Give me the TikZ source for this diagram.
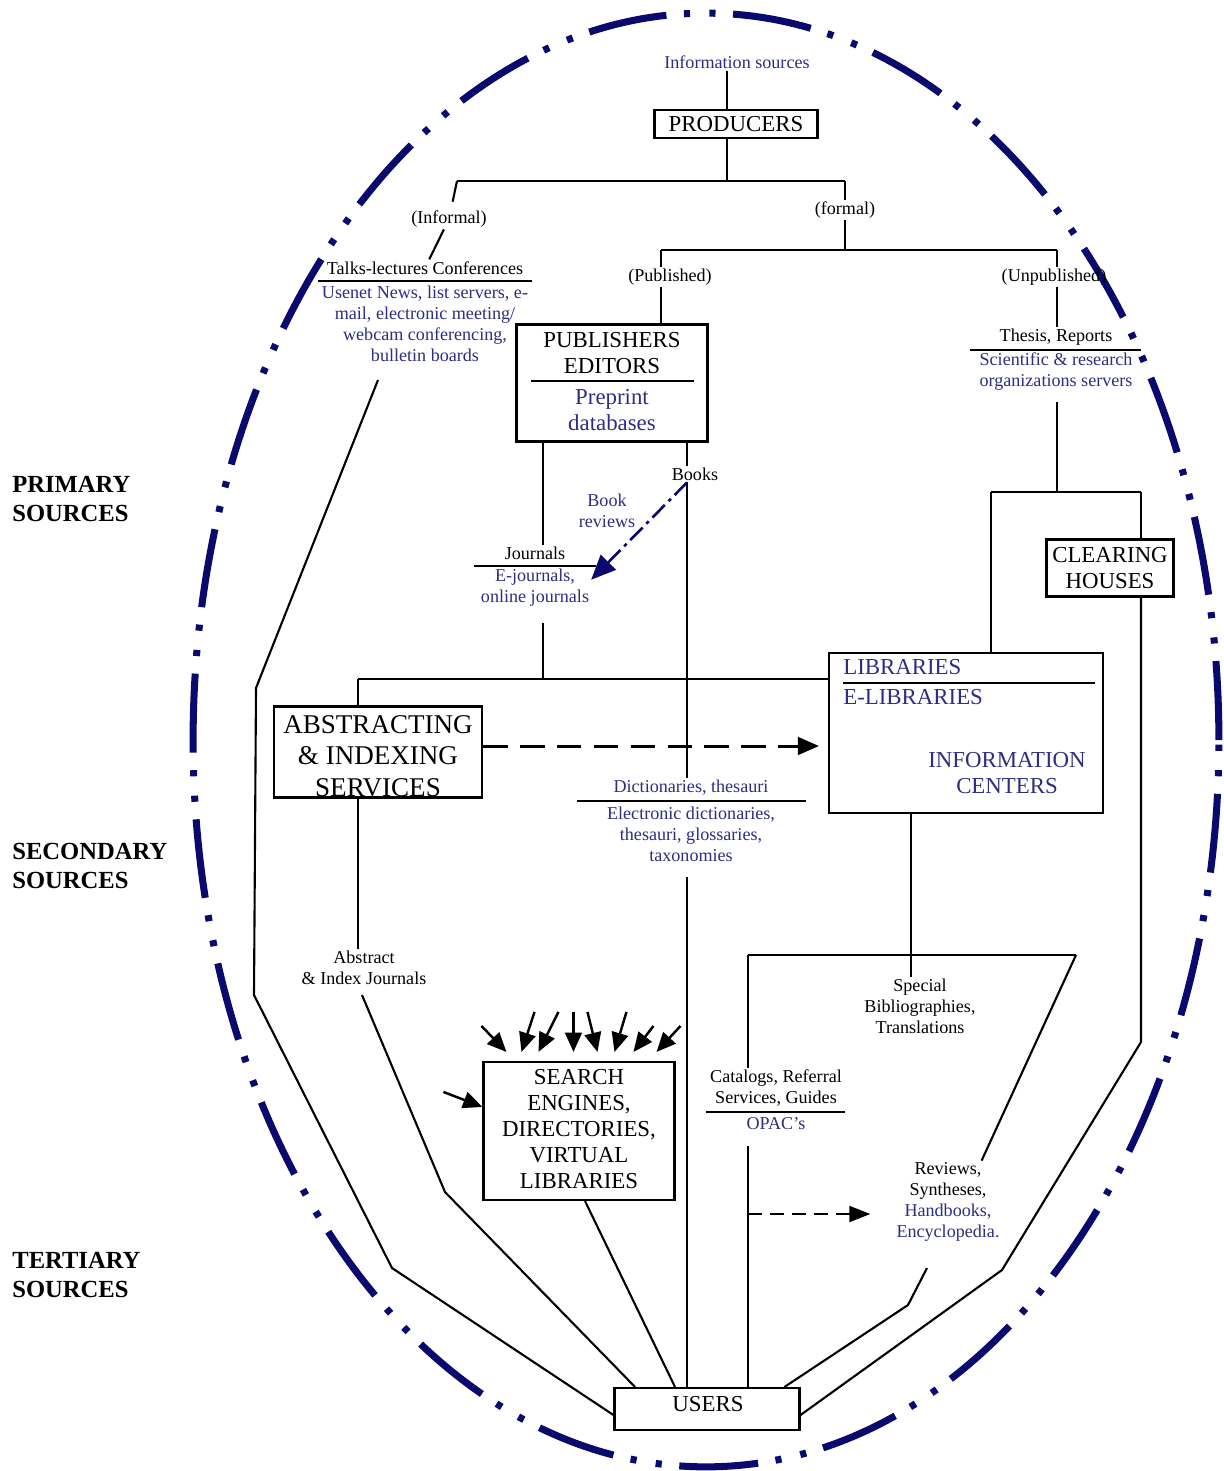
\documentclass[tikz,border=0pt]{standalone}
\usepackage{fontspec}
\setmainfont{Liberation Serif}
\usetikzlibrary{arrows.meta}

\definecolor{ovalblue}{RGB}{10,10,110}
\definecolor{textblue}{RGB}{45,45,130}

\begin{document}
\begin{tikzpicture}[x=0.02cm,y=-0.02cm,
    sm/.style={font=\fontsize{10.3}{11.9}\selectfont,align=center,inner sep=1pt},
    smb/.style={sm,text=textblue},
    big/.style={font=\fontsize{13}{15.2}\selectfont,align=center,inner sep=0pt},
    bigb/.style={big,text=textblue},
    box/.style={draw,very thick,inner sep=0pt,align=center,font=\fontsize{13}{15}\selectfont},
    side/.style={font=\bfseries\fontsize{14}{16.4}\selectfont,align=left,anchor=west,inner sep=0pt},
    fatarrow/.style={line width=1.4pt,-{Triangle[length=11pt,width=9.5pt]}},
]
\useasboundingbox (0,0) rectangle (1224,1471);

% the oval
\draw [ovalblue,line width=4pt,dash pattern=on 45pt off 10pt on 3.5pt off 11pt on 3.5pt off 10pt]
    (706,740) ellipse [x radius=10.26cm,y radius=14.54cm];

% side labels
\node [side] (prim) at (12,499) {PRIMARY\\SOURCES};
\node [side] (secd) at (12,866) {SECONDARY\\SOURCES};
\node [side] (tert) at (12,1275) {TERTIARY\\SOURCES};

% boxes
\node [box,minimum width=3.26cm,minimum height=0.56cm] (prod) at (736,124) {PRODUCERS};
\node [box,minimum width=3.82cm,minimum height=2.34cm] (pub) at (612,383) {};
\node [big] (pubtxt) at (612,353) {PUBLISHERS\\EDITORS};
\node [bigb] (pre) at (612,410) {Preprint\\databases};
\node [box,minimum width=4.16cm,minimum height=1.82cm] (aandi) at (378,752) {};
\node [big,font=\fontsize{15.4}{18}\selectfont] (aanditxt) at (378,756) {ABSTRACTING\\\& INDEXING\\SERVICES};
\node [box,minimum width=5.48cm,minimum height=3.2cm] (lib) at (966,733) {};
\node [bigb,anchor=west] (libtxt) at (843,667) {LIBRARIES};
\node [bigb,anchor=west] (elib) at (843,697) {E-LIBRARIES};
\node [bigb] (infc) at (1007,773) {INFORMATION\\CENTERS};
\node [box,minimum width=2.54cm,minimum height=1.14cm] (clear) at (1110,568) {CLEARING\\HOUSES};
\node [box,minimum width=3.82cm,minimum height=2.76cm] (search) at (579,1131) {};
\node [big,font=\fontsize{13}{14.9}\selectfont] (searchtxt) at (579,1129) {SEARCH\\ENGINES,\\DIRECTORIES,\\VIRTUAL\\LIBRARIES};
\node [box,minimum width=3.7cm,minimum height=0.84cm] (users) at (707,1409) {};
\node [big] (userstxt) at (708,1404) {USERS};

% labels
\node [smb] (info) at (737,62) {Information sources};
\node [sm] (informal) at (449,219) {(Informal)};
\node [sm] (formal) at (845,210) {(formal)};
\node [sm] (published) at (670,277) {(Published)};
\node [sm] (unpub) at (1054,277) {(Unpublished)};
\node [sm] (talks) at (425,268) {Talks-lectures Conferences};
\node [smb] (usenet) at (425,324) {Usenet News, list servers, e-\\mail, electronic meeting/\\webcam conferencing,\\bulletin boards};
\node [sm] (thesis) at (1056,337) {Thesis, Reports};
\node [smb] (sci) at (1056,372) {Scientific \& research\\organizations servers};
\node [sm] (books) at (695,474) {Books};
\node [smb] (bookrev) at (607,511) {Book\\reviews};
\node [sm] (journals) at (535,553) {Journals};
\node [smb] (ejour) at (535,588) {E-journals,\\online journals};
\node [smb] (dict) at (691,788) {Dictionaries, thesauri};
\node [smb] (edict) at (691,834) {Electronic dictionaries,\\thesauri, glossaries,\\taxonomies};
\node [sm] (absj) at (364,968) {Abstract\\\& Index Journals};
\node [sm] (special) at (920,1006) {Special\\Bibliographies,\\Translations};
\node [sm] (catalogs) at (776,1088) {Catalogs, Referral\\Services, Guides};
\node [smb] (opac) at (776,1124) {OPAC’s};
\node [sm] (reviews) at (948,1202) {Reviews,\\Syntheses,\\\textcolor{textblue}{Handbooks,}\\\textcolor{textblue}{Encyclopedia.}};

% rules under the labels
\foreach \xa/\xb/\yy in {318/532/281, 531/694/381, 970/1141/350, 474/596/566, 843/1095/683, 577/806/801, 706/845/1112}
    \draw [very thick] (\xa,\yy) -- (\xb,\yy);

% joints
\coordinate (jtop) at (727,181);
\coordinate (jinf) at (457,181);
\coordinate (jform) at (845,181);
\coordinate (jform2) at (845,250);
\coordinate (jpub) at (661,250);
\coordinate (junp) at (1057,250);
\coordinate (jclr) at (1057,492);
\coordinate (jlib) at (991,492);
\coordinate (jch) at (1141,492);
\coordinate (jjour) at (543,679);
\coordinate (jabs) at (358,679);
\coordinate (jbk) at (687,462);
\coordinate (jsp) at (911,955);
\coordinate (jcat) at (748,955);
\coordinate (jrev) at (1076,955);
\coordinate (l0) at (378,380);
\coordinate (l1) at (256,688);
\coordinate (l2) at (254,995);
\coordinate (l3) at (392,1268);
\coordinate (a0) at (362,995);
\coordinate (a1) at (445,1192);
\coordinate (r1) at (1141,1042);
\coordinate (r2) at (1002,1270);
\coordinate (v0) at (927,1268);
\coordinate (v1) at (908,1305);
\coordinate (dstart) at (748,1214);

% top tree
\draw [very thick] (info.south -| jtop) -- (prod.north -| jtop);
\draw [very thick] (prod.south -| jtop) -- (jtop);
\draw [very thick] (jinf) -- (jform);
\draw [very thick,shorten >=4pt] (jinf) -- (informal);
\draw [very thick] (informal) -- (talks);
\draw [very thick] (jform) -- (formal);
\draw [very thick] (formal) -- (jform2);
\draw [very thick] (jpub) -- (junp);
\draw [very thick] (jpub) -- (published.north -| jpub);
\draw [very thick] (published.south -| jpub) -- (pub.north -| jpub);
\draw [very thick] (junp) -- (unpub.north -| junp);
\draw [very thick] (unpub.south -| junp) -- (thesis.north -| junp);
\draw [very thick,shorten <=5pt] (sci.south -| junp) -- (jclr);
\draw [very thick] (jlib) -- (jch);
\draw [very thick] (jlib) -- (lib.north -| jlib);
\draw [very thick] (jch) -- (clear.north -| jch);
\draw [very thick] (clear.south -| jch) -- (r1) -- (r2) -- ([yshift=-0.12cm]users.east);
\draw [very thick] (l0) -- (l1) -- (l2) -- (l3) -- ([yshift=-0.12cm]users.west);

% middle
\draw [very thick] (pub.south -| jjour) -- (journals.north -| jjour);
\draw [very thick,shorten <=8pt] (ejour.south -| jjour) -- (jjour);
\draw [very thick] (jabs) -- (jabs -| lib.west);
\draw [very thick] (jabs) -- (aandi.north -| jabs);
\draw [very thick] (pub.south -| jbk) -- (books.north -| jbk);
\draw [very thick] (books.south -| jbk) -- (dict.north -| jbk);
\draw [very thick,shorten <=8pt] (edict.south -| jbk) -- (users.north -| jbk);
\draw [ovalblue,line width=1.5pt,dash pattern=on 10pt off 3pt on 2pt off 3pt,-{Triangle[length=14pt,width=12pt]}]
    (books.south -| jbk) -- ([yshift=-0.25cm]ejour.north east);
\draw [line width=1.7pt,dash pattern=on 14pt off 7pt,-{Triangle[length=12pt,width=10pt]},shorten >=0.18cm]
    ([yshift=0.12cm]aandi.east) -- ([yshift=0.12cm]aandi.east -| lib.west);

% bottom
\draw [very thick] (lib.south -| jsp) -- (jsp);
\draw [very thick] (jcat) -- (jrev);
\draw [very thick] (jsp) -- (special.north -| jsp);
\draw [very thick] (jcat) -- (catalogs.north -| jcat);
\draw [very thick,shorten <=8pt] (opac.south -| jcat) -- (users.north -| jcat);
\draw [very thick] (jrev) -- ([xshift=-0.4cm]reviews.north east);
\draw [very thick] (v0) -- (v1) -- ([xshift=1.55cm]users.north);
\draw [very thick] (aandi.south -| jabs) -- (absj.north -| jabs);
\draw [very thick] (a0) -- (a1) -- ([xshift=-1.44cm]users.north);
\draw [very thick] ([xshift=0.12cm]search.south) -- ([xshift=-0.64cm]users.north);
\draw [line width=1.4pt,dash pattern=on 8pt off 4.5pt,-{Triangle[length=12pt,width=9pt]},shorten >=0.48cm]
    (dstart) -- (dstart -| reviews.west);

% arrows into the search box
\foreach \sx/\sy/\ex in {-1/-35/24, 52/-49/39, 76/-49/56, 91/-49/91, 105/-49/115, 144/-49/132, 171/-35/151, 198/-35/174}
    \draw [fatarrow] ([shift={(\sx,\sy)}]search.north west) -- ([shift={(\ex,-9)}]search.north west);
\draw [fatarrow] ([shift={(-39,31)}]search.north west) -- ([shift={(0,46)}]search.north west);
\end{tikzpicture}
\end{document}
